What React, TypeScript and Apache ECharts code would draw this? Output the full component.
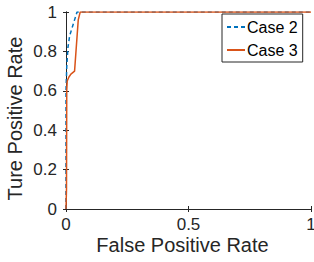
import React, { useEffect, useRef } from "react";
import * as echarts from "echarts";

const case2X = [0, 0, 0.003, 0.008, 0.015, 0.025, 0.035, 0.045, 1];
const case2Y = [0, 0.6, 0.72, 0.82, 0.88, 0.92, 0.96, 1, 1];
const case3X = [0, 0.002, 0.003, 0.005, 0.012, 0.02, 0.035, 0.05, 0.058, 1];
const case3Y = [0, 0.1, 0.6, 0.65, 0.67, 0.685, 0.7, 0.96, 1, 1];
const xTicks = [0, 0.5, 1];
const yTicks = [0, 0.2, 0.4, 0.6, 0.8, 1];

const toPairs = (xs: number[], ys: number[]) => xs.map((x, i) => [x, ys[i]]);

export default function App() {
  const ref = useRef<HTMLDivElement>(null);
  useEffect(() => {
    document.body.style.margin = "0";
    const chart = echarts.init(ref.current!, null, { renderer: "svg" });
    const txt = "#262626";
    const font = "'Liberation Sans', Arial, sans-serif";
    const axisLine = { show: true, lineStyle: { color: txt, width: 1 } };
    const tick = { show: true, inside: true, length: 3, lineStyle: { color: txt } };
    chart.setOption({
      animation: false,
      backgroundColor: "#ffffff",
      grid: { left: 66, right: 3, top: 12, bottom: 53, containLabel: false, outerBoundsMode: "none" },
      legend: {
        orient: "vertical",
        left: 222,
        top: 14,
        width: 83,
        itemWidth: 18,
        itemHeight: 10,
        itemGap: 7,
        padding: [5, 5, 4, 4],
        borderColor: txt,
        borderWidth: 1,
        backgroundColor: "#ffffff",
        itemStyle: { opacity: 0, borderWidth: 0 },
        textStyle: { fontFamily: font, fontSize: 16, color: "#000", padding: [0, 0, 0, -3] },
        data: ["Case 2", "Case 3"],
      },
      xAxis: [
        {
          type: "value",
          min: 0,
          max: 1,
          interval: 0.5,
          name: "False Positive Rate",
          nameLocation: "middle",
          nameGap: 26,
          nameMoveOverlap: false,
          nameTextStyle: { fontFamily: font, fontSize: 20, color: txt, padding: [0, 12, 0, 0] },
          axisLine,
          axisTick: tick,
          splitLine: { show: false },
          axisLabel: {
            fontFamily: font,
            fontSize: 17,
            color: txt,
            margin: 7,
            formatter: (v: number) => (xTicks.includes(v) ? String(v) : ""),
          },
        },
        {
          type: "value",
          position: "top",
          min: 0,
          max: 1,
          interval: 0.5,
          axisLine,
          axisTick: tick,
          axisLabel: { show: false },
          splitLine: { show: false },
        },
      ],
      yAxis: [
        {
          type: "value",
          min: 0,
          max: 1,
          interval: 0.2,
          name: "Ture Positive Rate",
          nameLocation: "middle",
          nameGap: 41,
          nameMoveOverlap: false,
          nameTextStyle: { fontFamily: font, fontSize: 20, color: txt, padding: [0, 16, 0, 0] },
          axisLine,
          axisTick: tick,
          splitLine: { show: false },
          axisLabel: {
            fontFamily: font,
            fontSize: 17,
            color: txt,
            margin: 9,
            formatter: (v: number) => {
              const t = yTicks.find((y) => Math.abs(y - v) < 1e-9);
              return t === undefined ? "" : String(t);
            },
          },
        },
        {
          type: "value",
          position: "right",
          min: 0,
          max: 1,
          interval: 0.2,
          axisLine,
          axisTick: tick,
          axisLabel: { show: false },
          splitLine: { show: false },
        },
      ],
      series: [
        {
          name: "Case 2",
          type: "line",
          data: toPairs(case2X, case2Y),
          showSymbol: false,
          symbol: "none",
          z: 3,
          itemStyle: { color: "#0072BD" },
          lineStyle: { color: "#0072BD", width: 1.5, type: [4, 3] },
        },
        {
          name: "Case 3",
          type: "line",
          data: toPairs(case3X, case3Y),
          showSymbol: false,
          symbol: "none",
          z: 4,
          itemStyle: { color: "#D95319" },
          lineStyle: { color: "#D95319", width: 1.5 },
        },
      ],
    });
    return () => chart.dispose();
  }, []);
  return <div ref={ref} style={{ width: 314, height: 262 }} />;
}
